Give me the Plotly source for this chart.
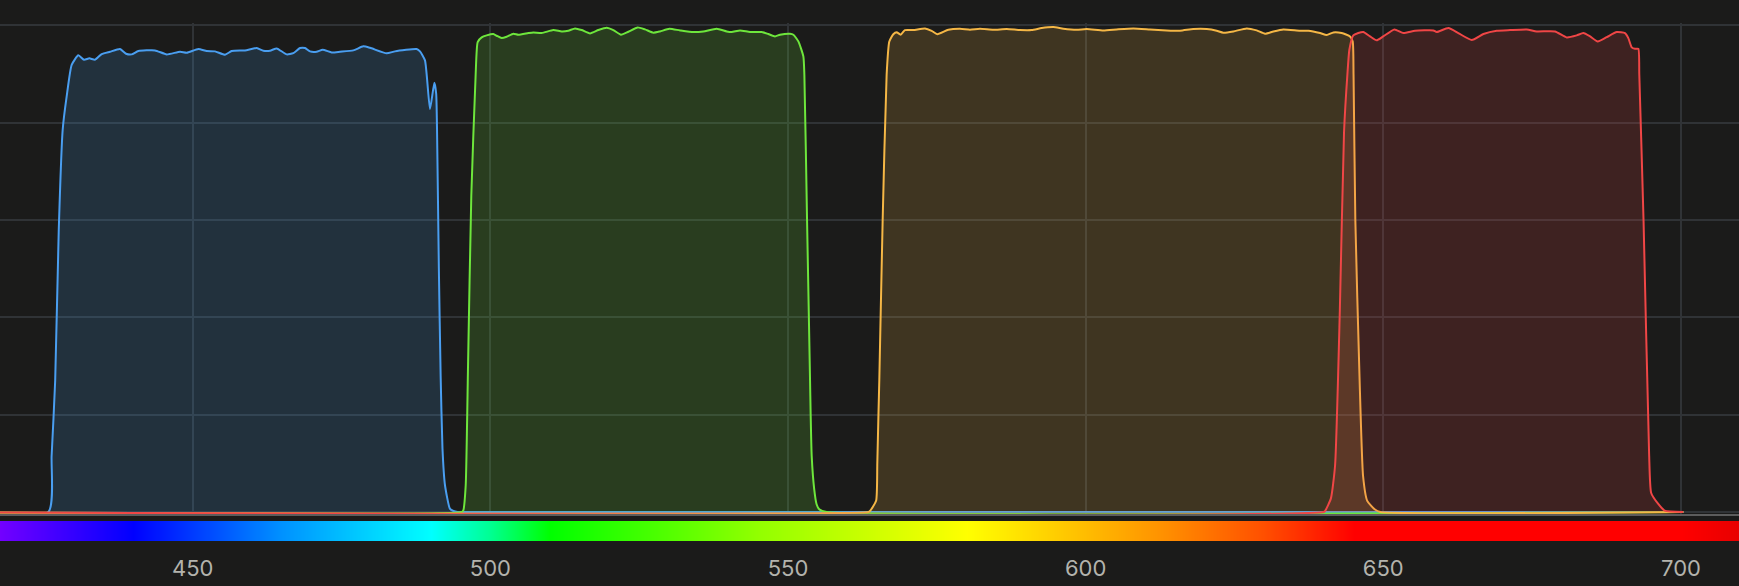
"""
Filter transmission curves over the visible spectrum
"""

import plotly.graph_objects as go

# wavelength (nm) / transmission (%)
blue_x = [400, 425.75, 426.3, 426.9, 427.5, 428.16, 428.83, 429.67, 430.79, 431.74, 432.64,
          433.59, 434.71, 436.11, 437.79, 438.8, 439.75, 440.87, 443.67, 445.63, 447.87,
          448.99, 450.95, 452.35, 453.75, 455.43, 456.55, 458.79, 460.75, 461.87, 462.99,
          464.11, 465.79, 466.9, 468.03, 468.87, 469.7, 470.82, 471.83, 473.35, 474.74,
          476.98, 478.66, 479.79, 482.58, 483.98, 487.62, 488.18, 489.02, 489.86, 490.59,
          490.9, 491.05, 491.35, 491.65, 491.96, 492.38, 493.2, 493.8, 494.5, 700.4]
blue_y = [0, 0, 11.5, 27, 58, 78.6, 85.4, 91.9, 93.85, 92.96, 93.23,
          92.96, 94.12, 94.6, 95.15, 94.19, 94.05, 94.74, 94.87, 94.05, 94.6,
          94.4, 95.15, 94.74, 94.67, 93.98, 94.74, 94.87, 95.35, 94.8, 94.8,
          95.28, 94.05, 94.3, 95.35, 95.35, 94.67, 94.6, 95.0, 94.46, 94.6,
          94.87, 95.7, 95.4, 94.26, 94.67, 95.15, 94.67, 92.82, 82.8, 88.2,
          86, 78, 50, 28, 13, 5.5, 0.7, 0.2, 0, 0]

green_x = [400, 495.2, 495.46, 495.86, 496.25, 496.8, 497.53, 497.87, 498.54, 499.38, 500.5,
           501.06, 501.9, 502.74, 503.86, 504.7, 506.38, 507.22, 508.62, 510.58, 511.98,
           513.1, 514.22, 515.34, 516.74, 518.14, 519.54, 520.66, 521.95, 523.18, 524.75,
           525.98, 527.38, 528.5, 530.07, 531.86, 534.1, 535.78, 538.02, 539.7, 540.54,
           541.94, 543.62, 545.58, 546.7, 547.81, 548.65, 550.34, 550.9, 551.74, 552.58,
           552.75, 553.2, 553.7, 553.8, 553.98, 554.4, 554.8, 555.25, 556.5, 700.4]
green_y = [0, 0, 0.35, 5.5, 30, 65, 89.88, 96.58, 97.54, 97.95, 98.23,
           97.88, 97.4, 97.68, 98.3, 98.09, 98.43, 98.57, 98.43, 99.05, 98.77,
           98.91, 99.39, 99.05, 98.36, 99.05, 99.53, 99.05, 98.09, 98.71, 99.6,
           99.18, 98.5, 98.77, 99.32, 98.98, 98.64, 98.77, 99.32, 98.77, 98.64,
           98.98, 98.64, 98.64, 98.23, 97.75, 98.09, 98.3, 98.09, 96.72, 93.64,
           89.88, 60, 27.2, 20.4, 11.5, 4.7, 1.6, 0.55, 0, 0]

yellow_x = [400, 563.5, 563.77, 564.8, 565.0, 565.2, 565.34, 565.9, 566.57, 567.02, 567.69,
            568.25, 568.92, 569.65, 571.05, 573.01, 574.13, 575.08, 576.93, 578.89, 580.57,
            582.25, 584.49, 586.73, 588.97, 590.93, 592.61, 594.57, 596.25, 598.49, 600.17,
            602.97, 605.21, 608.01, 610.81, 613.61, 615.85, 618.09, 620.33, 622.01, 623.13,
            624.81, 627.05, 628.73, 630.13, 631.53, 633.21, 636.02, 637.42, 639.37, 640.49,
            641.61, 643.01, 644.41, 644.86, 645.0, 645.3, 646.0, 646.6, 647.3, 648.6, 649.5,
            700.4]
yellow_y = [0, 0, 0.2, 2.3, 10, 20.4, 27.2, 60, 89.9, 96.7, 98.2,
            98.6, 98.1, 99.05, 99.05, 99.39, 98.9, 98.2, 99.1, 99.3, 99.1,
            99.3, 99.1, 99.26, 99.05, 99.05, 99.46, 99.67, 99.32, 99.1, 99.26,
            98.98, 99.18, 99.39, 99.18, 98.98, 98.91, 99.26, 99.26, 98.91, 98.5,
            98.77, 99.39, 98.98, 98.3, 98.77, 99.18, 98.91, 98.91, 98.43, 98.02,
            98.57, 98.43, 97.75, 96.7, 89.9, 60, 27.9, 7.4, 2.3, 0.5, 0,
            0]

red_x = [400, 640.0, 640.26, 641.2, 641.9, 642.7, 643.4, 643.97, 644.3, 644.96, 645.8,
         646.64, 647.77, 648.89, 650.0, 651.86, 653.37, 655.33, 658.41, 658.97, 660.93,
         662.6, 664.85, 666.81, 669.05, 671.29, 674.09, 675.77, 678.85, 680.81, 682.49,
         683.6, 684.73, 686.02, 687.53, 689.21, 690.6, 691.16, 691.73, 692.28, 692.84,
         693.0, 693.72, 694.65, 695.0, 696.15, 697.25, 700.4]
red_y = [0, 0, 0.3, 2.8, 9.6, 41.5, 78, 90, 95, 97.95, 98.43,
         98.64, 97.75, 96.93, 97.75, 99.18, 98.43, 98.91, 98.98, 98.64, 99.46,
         98.43, 97, 98.23, 98.91, 99.05, 99.18, 98.77, 98.77, 97.54, 97.95,
         98.43, 97.75, 96.72, 97.6, 98.64, 98.43, 97.4, 95.5, 95.2, 95.2,
         89.9, 59.7, 11.9, 3.9, 1.7, 0.3, 0]

# spectrum strip under the axis: wavelength -> colour
spec_nm = [410, 417, 440, 465, 490, 500, 510, 545, 580, 612, 630, 645, 700, 715]
spec_col = ["#9200ff", "#7600ff", "#0000ff", "#0092ff", "#00ffff", "#00ff92", "#00ff00",
            "#92ff00", "#ffff00", "#ff9400", "#ff4f00", "#ff0000", "#ff0000", "#dc0000"]

x_range = [417.63, 709.75]
bg = "#1b1b1a"
grid = "#303336"

series = [
    (blue_x, blue_y, "#4a9ef0", "rgba(74,158,240,0.17)"),
    (green_x, green_y, "#6ee63c", "rgba(110,230,60,0.17)"),
    (yellow_x, yellow_y, "#f5b746", "rgba(245,183,70,0.17)"),
    (red_x, red_y, "#f04646", "rgba(240,70,70,0.17)"),
]

fig = go.Figure()
for xs, ys, col, fillcol in series:
    fig.add_trace(go.Scatter(
        x=xs, y=ys, mode="lines",
        line=dict(color=col, width=2, shape="spline", smoothing=0.5),
        fill="tozeroy", fillcolor=fillcol,
        hoverinfo="skip", xaxis="x", yaxis="y",
    ))

lo, hi = spec_nm[0], spec_nm[-1]
scale = [[(w - lo) / (hi - lo), c] for w, c in zip(spec_nm, spec_col)]
fig.add_trace(go.Heatmap(
    z=[spec_nm], x=spec_nm, y=[0],
    colorscale=scale, zmin=lo, zmax=hi, zsmooth="best",
    showscale=False, hoverinfo="skip", xaxis="x2", yaxis="y2",
))

H = 586
fig.update_layout(
    width=1739, height=H,
    margin=dict(l=0, r=0, t=0, b=0),
    paper_bgcolor=bg, plot_bgcolor=bg,
    showlegend=False,
    xaxis=dict(
        domain=[0, 1], range=x_range, anchor="y",
        tick0=450, dtick=50, showgrid=True, gridcolor=grid, gridwidth=1.5,
        showline=True, linecolor="#5c5c5c", linewidth=2,
        showticklabels=False, ticks="", zeroline=False,
    ),
    yaxis=dict(
        domain=[1 - 514 / H, 1 - 23 / H], range=[-0.41, 100.5],
        tick0=0, dtick=20, showgrid=True, gridcolor=grid, gridwidth=1.5,
        showticklabels=False, ticks="", zeroline=False,
    ),
    xaxis2=dict(
        domain=[0, 1], range=x_range, anchor="y2",
        tick0=450, dtick=50, showgrid=False, zeroline=False,
        ticks="outside", ticklen=8, tickcolor=bg,
        tickfont=dict(family="Inter", size=22, color="#b3b3ad"),
    ),
    yaxis2=dict(
        domain=[1 - 541 / H, 1 - 521 / H], range=[-0.5, 0.5],
        visible=False,
    ),
)

fig.write_html(
    "out.html",
    config={"displayModeBar": False},
    post_script="document.body.style.margin='0';document.body.style.overflow='hidden';",
)
